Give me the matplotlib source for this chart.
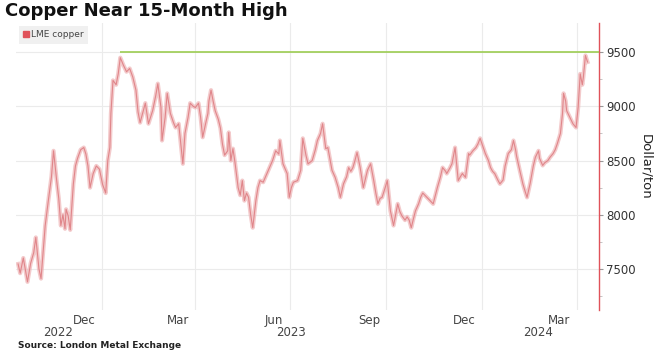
import matplotlib
matplotlib.use('Agg')
import matplotlib.pyplot as plt
import matplotlib.dates as mpdates
from matplotlib.lines import Line2D
import pandas as pd

# LME copper: days after 2023-01-01 and price (USD/ton)
base_date = '2023-01-01'
day_offset = [-80, -78, -75, -71, -68, -65, -63, -60, -58, -56, -54, -51, -48, -46, -43,
              -41, -39, -37, -35, -34, -32, -30, -27, -25, -23, -20, -17, -15, -13, -11,
              -8, -5, -2, 1, 4, 6, 8, 9, 11, 14, 16, 18, 21, 24, 27, 30, 33, 35, 37, 40,
              42, 45, 47, 49, 52, 54, 57, 58, 61, 63, 66, 69, 71, 74, 76, 78, 80, 83, 85,
              88, 90, 93, 95, 97, 100, 102, 103, 105, 107, 109, 112, 114, 116, 118, 121,
              122, 124, 126, 128, 131, 133, 135, 137, 139, 141, 143, 145, 148, 150, 152,
              155, 157, 160, 162, 164, 167, 170, 171, 174, 178, 180, 182, 184, 188, 191,
              193, 196, 198, 202, 205, 207, 210, 212, 215, 217, 221, 224, 227, 229, 232,
              235, 237, 239, 241, 243, 245, 248, 251, 253, 255, 258, 261, 263, 265, 267,
              269, 272, 274, 277, 280, 282, 284, 286, 288, 291, 293, 295, 297, 299, 301,
              304, 306, 308, 310, 313, 315, 318, 322, 325, 327, 330, 331, 334, 336, 339,
              342, 344, 346, 349, 352, 353, 356, 359, 361, 363, 366, 368, 371, 373, 375,
              377, 380, 382, 385, 387, 390, 393, 395, 397, 398, 401, 404, 406, 408, 411,
              414, 416, 419, 420, 423, 425, 428, 430, 433, 435, 437, 440, 442, 443, 445,
              446, 449, 452, 455, 457, 459, 461, 462, 464, 466]
price = [7545, 7460, 7600, 7380, 7550, 7650, 7790, 7500, 7410, 7650, 7900, 8130, 8350, 8590, 8315,
         8150, 7900, 8000, 7870, 8050, 7990, 7860, 8285, 8450, 8520, 8600, 8620, 8560, 8450, 8250,
         8380, 8450, 8420, 8280, 8200, 8500, 8620, 8935, 9240, 9200, 9300, 9450, 9380, 9320, 9350, 9270, 9150, 8950, 8850, 8960,
         9030, 8840, 8900, 8960, 9100, 9210, 8990, 8685, 8900, 9120, 8935, 8850, 8805, 8840, 8650,
         8470, 8750, 8900, 9030, 9000, 8990, 9030, 8900, 8715, 8850, 8935, 9050, 9150, 9050, 8960,
         8880, 8800, 8650, 8550, 8590, 8760, 8500, 8610, 8480, 8250, 8180, 8315, 8130, 8200, 8160,
         8000, 7880, 8130, 8250, 8315, 8300, 8345, 8410, 8460, 8500, 8590, 8560, 8685, 8470, 8380,
         8160, 8250, 8300, 8315, 8410, 8705, 8550, 8470, 8500, 8600, 8685, 8750, 8840, 8610, 8620,
         8410, 8345, 8250, 8160, 8285, 8350, 8435, 8400, 8435, 8500, 8575, 8435, 8250, 8330, 8410,
         8470, 8315, 8200, 8100, 8150, 8160, 8250, 8315, 8035, 7900, 8000, 8100, 8030, 7990, 7950,
         7980, 7950, 7880, 7960, 8035, 8100, 8160, 8200, 8180, 8150, 8130, 8100, 8250, 8350, 8435,
         8400, 8380, 8430, 8470, 8620, 8315, 8350, 8380, 8345, 8565, 8550, 8590, 8620, 8655, 8705,
         8620, 8565, 8500, 8435, 8400, 8380, 8320, 8285, 8320, 8450, 8565, 8600, 8685, 8600, 8540,
         8410, 8285, 8220, 8160, 8290, 8450, 8530, 8590, 8520, 8455, 8480, 8500, 8530, 8565, 8600,
         8655, 8750, 8935, 9120, 9050, 8960, 8900, 8840, 8805, 8990, 9300, 9200, 9270, 9470, 9410]

month_labels = ['Dec', 'Mar', 'Jun', 'Sep', 'Dec', 'Mar']
month_label_dates = ['2022-12-15', '2023-03-15', '2023-06-15', '2023-09-15', '2023-12-15', '2024-03-15']
grid_dates = ['2023-01-01', '2023-04-01', '2023-07-01', '2023-10-01', '2024-01-01', '2024-04-01']
year_labels = ['2022', '2023', '2024']
year_label_dates = ['2022-11-20', '2023-07-02', '2024-02-24']
y_ticks = [7500, 8000, 8500, 9000, 9500]
high_level = 9500
high_date = '2023-01-19'

dates = pd.to_datetime(base_date) + pd.to_timedelta(day_offset, unit='D')

fig = plt.figure(figsize=(6.57, 3.57), dpi=100)
ax = fig.add_axes([16 / 657, 47 / 357, 583 / 657, 287 / 357])

# series: a soft wide stroke plus a thin line to mimic the dense daily bars
ax.plot(dates, price, color='#eeb4b6', lw=3.0, alpha=0.7)
ax.plot(dates, price, color='#dd7a7f', lw=0.8, alpha=0.85)

ax.hlines(high_level, mpdates.date2num(pd.Timestamp(high_date)),
          mpdates.date2num(pd.Timestamp('2024-04-22')), color='#9ccc52', lw=1.2, zorder=3)

ax.set_xlim(pd.Timestamp('2022-10-11'), pd.Timestamp('2024-04-22'))
ax.set_ylim(7120, 9770)

# gridlines at quarter starts, labels centred mid-month
ax.set_xticks(pd.to_datetime(grid_dates))
ax.set_xticklabels([])
ax.set_xticks(pd.to_datetime(month_label_dates), minor=True)
ax.set_xticklabels(month_labels, minor=True)
ax.tick_params(axis='x', which='both', length=0, labelsize=8.5, labelcolor='#444444', pad=3)
ax.grid(True, axis='x', which='major', color='#ebebeb', lw=0.8)
ax.grid(True, axis='y', color='#ebebeb', lw=0.8)
ax.set_axisbelow(True)

ax.yaxis.tick_right()
ax.yaxis.set_label_position('right')
ax.set_yticks(y_ticks)
ax.set_yticklabels([str(v) for v in y_ticks])
ax.set_yticks(list(range(7250, 9750, 250)), minor=True)
ax.tick_params(axis='y', which='major', length=3, color='#999999', labelsize=8.5,
               labelcolor='#333333', pad=2)
ax.tick_params(axis='y', which='minor', length=2, color='#bbbbbb')
ax.set_ylabel('Dollar/ton', rotation=-90, fontsize=9.5, color='#222222', labelpad=12)

for side in ['top', 'left', 'bottom']:
    ax.spines[side].set_visible(False)
ax.spines['right'].set_color('#e0525a')
ax.spines['right'].set_linewidth(1.0)

for lab, d in zip(year_labels, year_label_dates):
    ax.text(pd.Timestamp(d), -23 / 287, lab, transform=ax.get_xaxis_transform(),
            ha='center', va='center', fontsize=8.5, color='#444444')

handle = Line2D([], [], marker='s', ls='none', color='#e0525a', markersize=5)
leg = ax.legend([handle], ['LME copper'], loc='upper left', bbox_to_anchor=(0.0, 1.0),
                fontsize=6.5, frameon=True, handlelength=0.6, handletextpad=0.3,
                borderpad=0.5, borderaxespad=0.3, fancybox=False)
leg.get_frame().set_facecolor('#f0f0f0')
leg.get_frame().set_edgecolor('none')
leg.get_frame().set_alpha(1)
for t in leg.get_texts():
    t.set_color('#444444')

fig.text(5 / 657, 1 - 11 / 357, 'Copper Near 15-Month High', fontsize=13, fontweight='bold',
         color='#111111', va='center', ha='left')
fig.text(18 / 657, 1 - 346 / 357, 'Source: London Metal Exchange', fontsize=6.5,
         fontweight='bold', color='#222222', va='center', ha='left')

fig.savefig('out.png', dpi=100)
